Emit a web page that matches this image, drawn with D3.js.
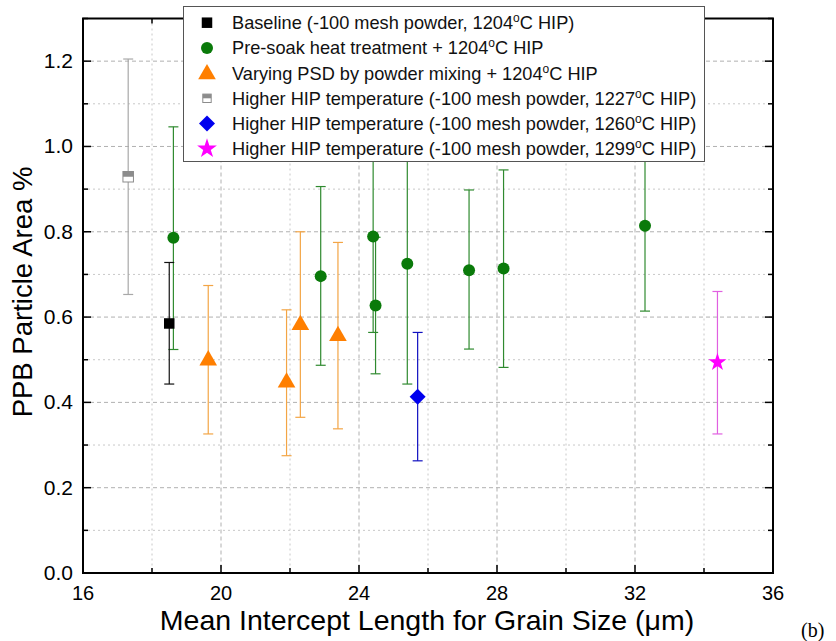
<!DOCTYPE html>
<html><head><meta charset="utf-8">
<script src="https://cdn.jsdelivr.net/npm/d3@7"></script>
<style>body{margin:0;background:#fff;} svg{display:block;font-family:"Liberation Sans",Arial,sans-serif;}</style>
</head><body>
<svg id="c" width="836" height="641"></svg>
<script>
// ---- data ----
const xTicks = [16, 20, 24, 28, 32, 36];
const yTicks = [0.0, 0.2, 0.4, 0.6, 0.8, 1.0, 1.2];

const baselineX = [18.50];
const baselineY = [0.585];
const baselineLo = [0.443];
const baselineHi = [0.728];

const presoakX = [18.62, 22.89, 24.41, 24.48, 25.40, 27.19, 28.19, 32.29];
const presoakY = [0.786, 0.696, 0.789, 0.627, 0.725, 0.710, 0.714, 0.814];
const presoakLo = [0.524, 0.487, 0.564, 0.467, 0.443, 0.525, 0.482, 0.614];
const presoakHi = [1.046, 0.906, 1.014, 0.787, 1.007, 0.898, 0.945, 1.014];

const psdX = [19.63, 21.90, 22.30, 23.39];
const psdY = [0.501, 0.449, 0.584, 0.558];
const psdLo = [0.326, 0.275, 0.365, 0.338];
const psdHi = [0.674, 0.617, 0.800, 0.775];

const hip1227X = [17.31];
const hip1227Y = [0.929];
const hip1227Lo = [0.653];
const hip1227Hi = [1.205];

const hip1260X = [25.70];
const hip1260Y = [0.413];
const hip1260Lo = [0.263];
const hip1260Hi = [0.564];

const hip1299X = [34.39];
const hip1299Y = [0.494];
const hip1299Lo = [0.326];
const hip1299Hi = [0.660];

const legendPre = ["Baseline (-100 mesh powder, 1204", "Pre-soak heat treatment + 1204", "Varying PSD by powder mixing + 1204",
  "Higher HIP temperature (-100 mesh powder, 1227", "Higher HIP temperature (-100 mesh powder, 1260", "Higher HIP temperature (-100 mesh powder, 1299"];
const legendPost = ["C HIP)", "C HIP", "C HIP", "C HIP)", "C HIP)", "C HIP)"];

// ---- layout ----
const svg = d3.select("#c");
const L = 83, R = 773, T = 18.5, B = 573;
const x = d3.scaleLinear().domain([16, 36]).range([L, R]);
const y = d3.scaleLinear().domain([0, 1.3]).range([B, T]);

// grid
const g = svg.append("g");
const xMinor = d3.range(18, 36, 2);
g.selectAll(".gx").data(xMinor).join("line")
  .attr("x1", d => x(d)).attr("x2", d => x(d)).attr("y1", T).attr("y2", B)
  .attr("stroke", d => d % 4 === 0 ? "#b0b0b0" : "#c8c8c8").attr("stroke-width", 1)
  .attr("stroke-dasharray", d => d % 4 === 0 ? "4,3" : "2,3");
const yGrid = d3.range(1, 13).map(i => i / 10);
g.selectAll(".gy").data(yGrid).join("line")
  .attr("x1", L).attr("x2", R).attr("y1", d => y(d)).attr("y2", d => y(d))
  .attr("stroke", (d, i) => (i % 2 === 1) ? "#b0b0b0" : "#c8c8c8").attr("stroke-width", 1)
  .attr("stroke-dasharray", (d, i) => (i % 2 === 1) ? "4,3" : "2,3");

// series
const series = [
  {X: hip1227X, Y: hip1227Y, Lo: hip1227Lo, Hi: hip1227Hi, color: "#8c8c8c", err: "#a8a8a8", shape: "half"},
  {X: presoakX, Y: presoakY, Lo: presoakLo, Hi: presoakHi, color: "#0a7a0a", err: "#2f8a2f", shape: "circle"},
  {X: baselineX, Y: baselineY, Lo: baselineLo, Hi: baselineHi, color: "#000000", err: "#111111", shape: "square"},
  {X: psdX, Y: psdY, Lo: psdLo, Hi: psdHi, color: "#ff7f00", err: "#f3a545", shape: "triangle"},
  {X: hip1260X, Y: hip1260Y, Lo: hip1260Lo, Hi: hip1260Hi, color: "#0000ee", err: "#1010c0", shape: "diamond"},
  {X: hip1299X, Y: hip1299Y, Lo: hip1299Lo, Hi: hip1299Hi, color: "#ff00ff", err: "#e060e0", shape: "star"}
];

function drawMarker(sel, shape, color, cx, cy, scale) {
  scale = scale || 1;
  if (shape === "circle") {
    sel.append("circle").attr("cx", cx).attr("cy", cy).attr("r", 6 * scale).attr("fill", color);
  } else if (shape === "square") {
    const s = 10.5 * scale;
    sel.append("rect").attr("x", cx - s / 2).attr("y", cy - s / 2).attr("width", s).attr("height", s).attr("fill", color);
  } else if (shape === "half") {
    const s = 10.5 * scale;
    sel.append("rect").attr("x", cx - s / 2).attr("y", cy - s / 2).attr("width", s).attr("height", s).attr("fill", "#fff").attr("stroke", color).attr("stroke-width", 1);
    sel.append("rect").attr("x", cx - s / 2).attr("y", cy - s / 2).attr("width", s).attr("height", s / 2).attr("fill", color);
  } else if (shape === "triangle") {
    sel.append("path").attr("d", d3.symbol(d3.symbolTriangle, 135 * scale * scale)()).attr("transform", `translate(${cx},${cy + 1})`).attr("fill", color);
  } else if (shape === "diamond") {
    const s = 8 * scale;
    sel.append("path").attr("d", `M${cx},${cy - s}L${cx + s},${cy}L${cx},${cy + s}L${cx - s},${cy}Z`).attr("fill", color);
  } else if (shape === "star") {
    sel.append("path").attr("d", d3.symbol(d3.symbolStar, 100 * scale * scale)()).attr("transform", `translate(${cx},${cy})`).attr("fill", color);
  }
}

const pg = svg.append("g");
series.forEach(s => {
  s.X.forEach((xv, i) => {
    const cx = x(xv);
    pg.append("line").attr("x1", cx).attr("x2", cx).attr("y1", y(s.Lo[i])).attr("y2", y(s.Hi[i])).attr("stroke", s.err).attr("stroke-width", 1.2);
    [s.Lo[i], s.Hi[i]].forEach(v => {
      pg.append("line").attr("x1", cx - 5).attr("x2", cx + 5).attr("y1", y(v)).attr("y2", y(v)).attr("stroke", s.err).attr("stroke-width", 1.2);
    });
  });
  s.X.forEach((xv, i) => drawMarker(pg, s.shape, s.color, x(xv), y(s.Y[i])));
});

// axes frame and ticks
const ax = svg.append("g");
const xMajor = d3.range(16, 37, 4);
const xMin = d3.range(18, 36, 4);
const yMaj = d3.range(0, 7).map(i => i * 0.2);
const yMin = d3.range(0, 7).map(i => i * 0.2 + 0.1);
function tickLines(vals, len) {
  vals.forEach(v => {
    ax.append("line").attr("x1", x(v)).attr("x2", x(v)).attr("y1", B).attr("y2", B - len).attr("stroke", "#000").attr("stroke-width", 1.5);
    ax.append("line").attr("x1", x(v)).attr("x2", x(v)).attr("y1", T).attr("y2", T + len).attr("stroke", "#000").attr("stroke-width", 1.5);
  });
}
tickLines(xMajor, 8); tickLines(xMin, 5);
function tickLinesY(vals, len) {
  vals.forEach(v => {
    ax.append("line").attr("y1", y(v)).attr("y2", y(v)).attr("x1", L).attr("x2", L + len).attr("stroke", "#000").attr("stroke-width", 1.5);
    ax.append("line").attr("y1", y(v)).attr("y2", y(v)).attr("x1", R).attr("x2", R - len).attr("stroke", "#000").attr("stroke-width", 1.5);
  });
}
tickLinesY(yMaj, 8); tickLinesY(yMin, 5);
ax.append("rect").attr("x", L).attr("y", T).attr("width", R - L).attr("height", B - T).attr("fill", "none").attr("stroke", "#000").attr("stroke-width", 2);

// tick labels
svg.append("g").selectAll("text").data(xTicks).join("text")
  .attr("x", d => x(d)).attr("y", 600).attr("text-anchor", "middle").attr("font-size", 20).text(d => d);
svg.append("g").selectAll("text").data(yTicks).join("text")
  .attr("x", 73).attr("y", d => y(d) + 7).attr("text-anchor", "end").attr("font-size", 21).text(d => d.toFixed(1));

// axis titles
svg.append("text").attr("x", 427).attr("y", 630).attr("text-anchor", "middle").attr("font-size", 28.5).text("Mean Intercept Length for Grain Size (\u03bcm)");
svg.append("text").attr("transform", `translate(32,292) rotate(-90)`).attr("text-anchor", "middle").attr("font-size", 27.5).text("PPB Particle Area %");
svg.append("text").attr("x", 801).attr("y", 637).attr("font-family", "'Liberation Serif',serif").attr("font-size", 20).text("(b)");

// legend
const lg = svg.append("g");
lg.append("rect").attr("x", 183.5).attr("y", 6.5).attr("width", 521).attr("height", 155).attr("fill", "#fff").attr("stroke", "#555").attr("stroke-width", 1);
const legendShapes = ["square", "circle", "triangle", "half", "diamond", "star"];
const legendColors = ["#000000", "#0a7a0a", "#ff7f00", "#8c8c8c", "#0000ee", "#ff00ff"];
legendPre.forEach((t, i) => {
  const cy = 22.7 + i * 25.2;
  const ls = legendShapes[i];
  drawMarker(lg, ls, legendColors[i], 207, cy, ls === "half" ? 0.8 : (ls === "star" ? 1.1 : 1));
  const tx = lg.append("text").attr("x", 232).attr("y", cy + 6.5).attr("font-size", 18.2).attr("fill", "#111");
  tx.append("tspan").text(t);
  tx.append("tspan").attr("dy", -7).attr("font-size", 12).text("o");
  tx.append("tspan").attr("dy", 7).text(legendPost[i]);
});
</script>
</body></html>
